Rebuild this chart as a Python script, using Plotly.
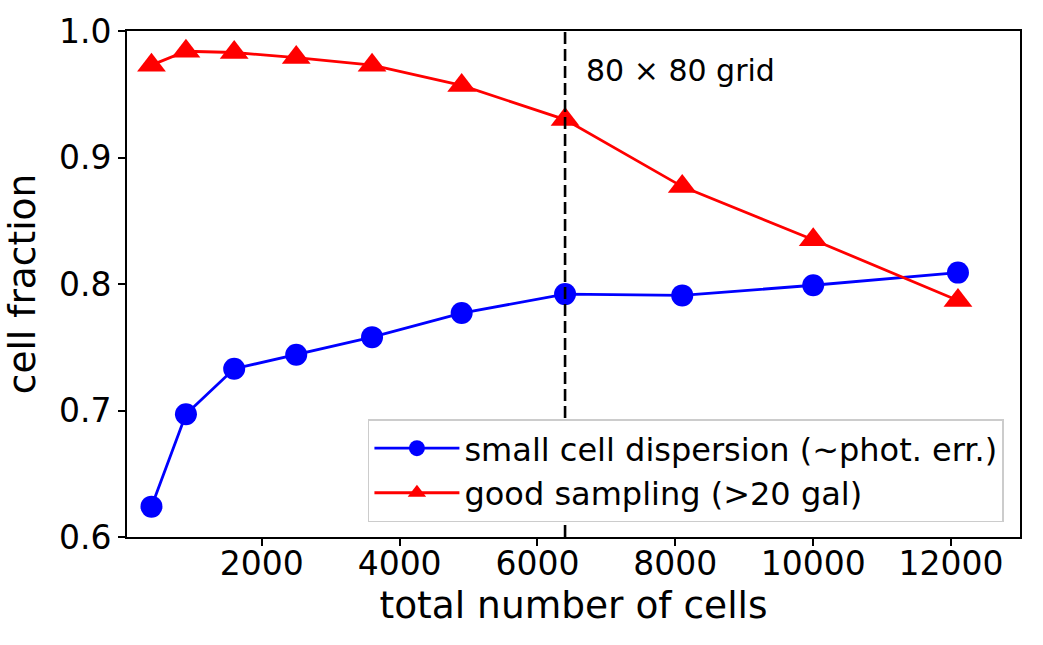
import plotly.graph_objects as go

n_cells = [400, 900, 1600, 2500, 3600, 4900, 6400, 8100, 10000, 12100]
small_disp = [0.624, 0.697, 0.733, 0.744, 0.758, 0.777, 0.792, 0.791, 0.799, 0.809]
good_samp = [0.973, 0.984, 0.983, 0.979, 0.973, 0.957, 0.930, 0.877, 0.835, 0.787]
grid_cells = 6400
grid_label = "80 × 80 grid"
x_ticks = [2000, 4000, 6000, 8000, 10000, 12000]
x_tick_text = ["2000", "4000", "6000", "8000", "10000", "12000"]
y_ticks = [0.6, 0.7, 0.8, 0.9, 1.0]

FONT = "DejaVu Sans"

fig = go.Figure()
fig.add_trace(go.Scatter(
    x=n_cells, y=small_disp, mode="lines+markers",
    name="small cell dispersion (~phot. err.)", legendgroup="a",
    line=dict(color="#0000ff", width=2.8),
    marker=dict(symbol="circle", size=22, color="#0000ff"),
))
fig.add_trace(go.Scatter(
    x=n_cells, y=good_samp, mode="lines+markers",
    name="good sampling (>20 gal)", legendgroup="b",
    line=dict(color="#ff0000", width=2.8),
    marker=dict(symbol="triangle-up", size=25, color="#ff0000"),
))

fig.add_vline(x=grid_cells, line=dict(color="black", width=2.6, dash="12px,5px"))
fig.add_annotation(x=6670, y=0.969, text=grid_label, showarrow=False,
                   xanchor="left", yanchor="middle",
                   font=dict(family=FONT, size=30, color="black"))

axis_common = dict(
    showgrid=False, zeroline=False, showline=True, linecolor="black", linewidth=1.7,
    mirror=True, ticks="outside", ticklen=7, tickwidth=1.7, tickcolor="black",
    tickfont=dict(family=FONT, size=33, color="black"),
)
fig.update_xaxes(range=[45, 13000], tickvals=x_ticks, ticktext=x_tick_text,
                 ticklabelstandoff=-10,
                 title=dict(text="total number of cells", font=dict(family=FONT, size=37.5, color="black"),
                            standoff=4),
                 **axis_common)
fig.update_yaxes(range=[0.6, 1.0], tickvals=y_ticks, tickformat=".1f",
                 title=dict(text="cell fraction", font=dict(family=FONT, size=37.5, color="black"),
                            standoff=12),
                 **axis_common)

fig.update_layout(
    width=1043, height=645,
    margin=dict(l=127, r=23, t=28, b=108),
    paper_bgcolor="white", plot_bgcolor="white",
    font=dict(family=FONT, color="black"),
    legend=dict(x=0.982, y=0.029, xanchor="right", yanchor="bottom",
                bgcolor="white", bordercolor="#cccccc", borderwidth=1.5,
                font=dict(family=FONT, size=32, color="black"),
                tracegroupgap=8, itemwidth=85, traceorder="normal"),
    showlegend=True,
)

fig.write_html("out.html")
